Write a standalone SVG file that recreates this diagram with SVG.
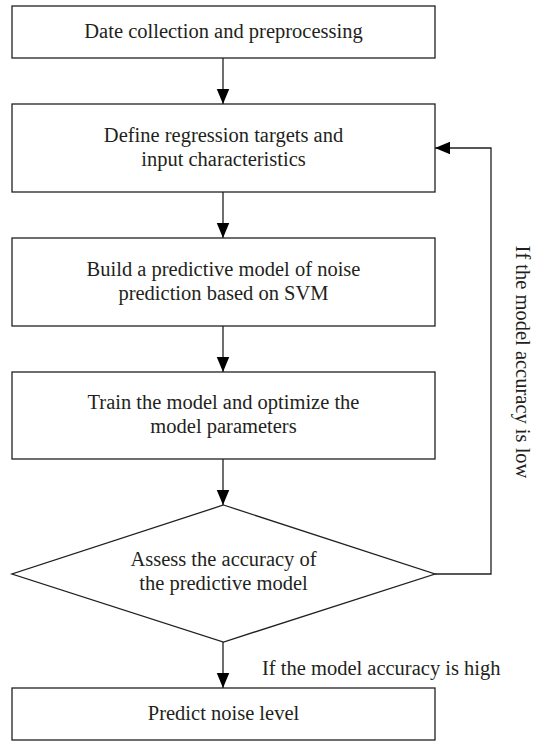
<svg xmlns="http://www.w3.org/2000/svg" width="539" height="741" viewBox="0 0 539 741">
<style>
.box{fill:#fff;stroke:#231f20;stroke-width:1.3}
.ln{fill:none;stroke:#231f20;stroke-width:1.3}
.t{font-family:"Liberation Serif","Times New Roman",serif;font-size:20.5px;fill:#231f20;text-anchor:middle}
</style>
<defs>
<marker id="ah" markerWidth="15" markerHeight="18" refX="18" refY="7.5" viewBox="0 0 18 15" orient="auto" markerUnits="userSpaceOnUse">
<path d="M0,0 L18,7.5 L0,15 Z" fill="#000"/>
</marker>
</defs>
<g id="connectors">
<line class="ln" x1="223" y1="58" x2="223" y2="104" marker-end="url(#ah)"/>
<line class="ln" x1="223" y1="192" x2="223" y2="238" marker-end="url(#ah)"/>
<line class="ln" x1="223" y1="326" x2="223" y2="372" marker-end="url(#ah)"/>
<line class="ln" x1="223" y1="459" x2="223" y2="505" marker-end="url(#ah)"/>
<line class="ln" x1="223" y1="642" x2="223" y2="688" marker-end="url(#ah)"/>
<polyline class="ln" points="435,574 491,574 491,148 435,148" marker-end="url(#ah)"/>
<text class="t" x="262" y="675" style="text-anchor:start">If the model accuracy is high</text>
<text class="t" transform="translate(516,362) rotate(90)">If the model accuracy is low</text>
</g>
<g id="n1">
<rect class="box" x="12" y="6" width="423" height="52"/>
<text class="t" x="223.5" y="38">Date collection and preprocessing</text>
</g>
<g id="n2">
<rect class="box" x="12" y="104" width="423" height="88"/>
<text class="t" x="223.5" y="142">Define regression targets and</text>
<text class="t" x="223.5" y="166">input characteristics</text>
</g>
<g id="n3">
<rect class="box" x="12" y="238" width="423" height="88"/>
<text class="t" x="223.5" y="276">Build a predictive model of noise</text>
<text class="t" x="223.5" y="300">prediction based on SVM</text>
</g>
<g id="n4">
<rect class="box" x="12" y="372" width="423" height="87"/>
<text class="t" x="223.5" y="409">Train the model and optimize the</text>
<text class="t" x="223.5" y="433">model parameters</text>
</g>
<g id="n5">
<polygon class="box" points="223.5,505 435,574 223.5,642 12,574"/>
<text class="t" x="223.5" y="566">Assess the accuracy of</text>
<text class="t" x="223.5" y="590">the predictive model</text>
</g>
<g id="n6">
<rect class="box" x="12" y="688" width="423" height="52"/>
<text class="t" x="223.5" y="720">Predict noise level</text>
</g>
</svg>
